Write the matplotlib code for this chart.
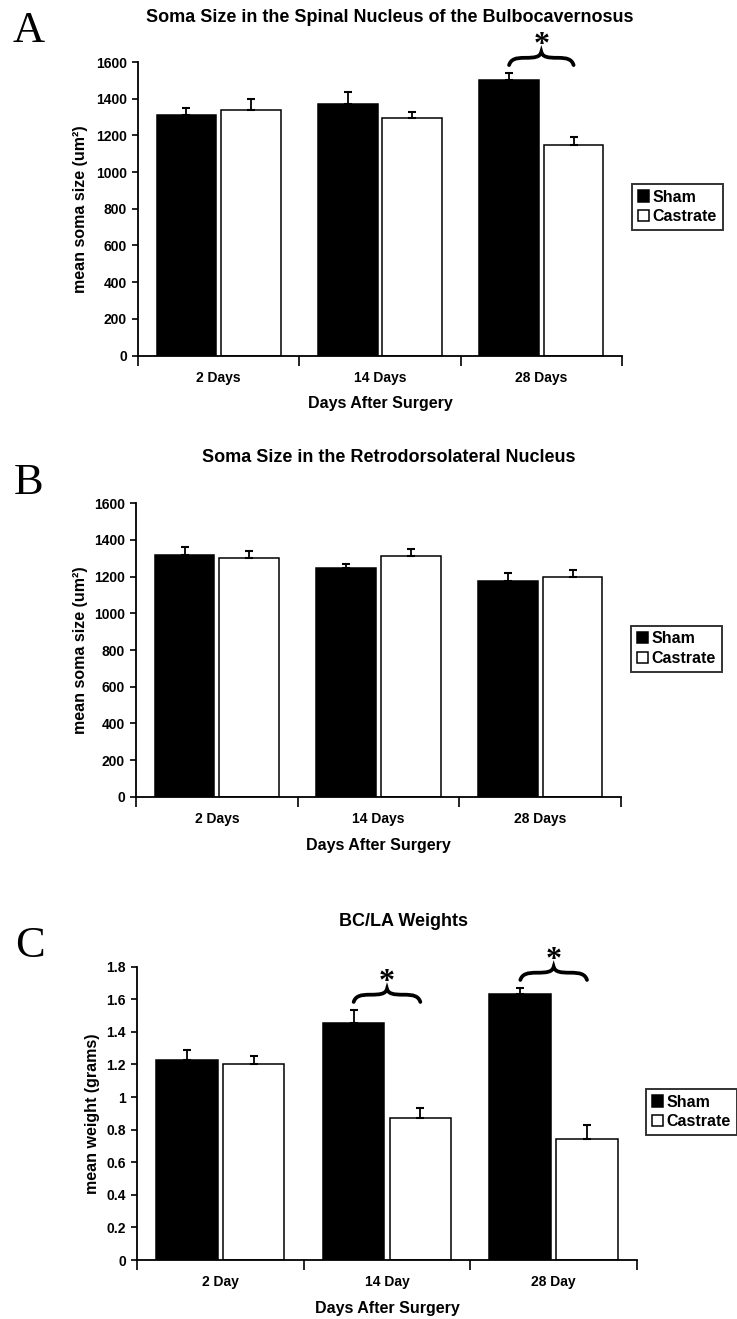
import matplotlib
matplotlib.use("Agg")
import matplotlib.pyplot as plt
import numpy as np
from matplotlib.path import Path
from matplotlib.patches import PathPatch
from matplotlib.ticker import FuncFormatter, MultipleLocator

plt.rcParams['font.family'] = ['Liberation Sans', 'DejaVu Sans']
plt.rcParams['font.weight'] = 'bold'

# ---- data ----
groups = ["Sham", "Castrate"]

days_ab = ["2 Days", "14 Days", "28 Days"]
days_c = ["2 Day", "14 Day", "28 Day"]

sbn_sham = [1310, 1370, 1500]
sbn_sham_err = [40, 65, 40]
sbn_cast = [1340, 1295, 1145]
sbn_cast_err = [60, 35, 45]
sbn_sig = [2]

rdln_sham = [1320, 1245, 1178]
rdln_sham_err = [40, 22, 42]
rdln_cast = [1300, 1310, 1200]
rdln_cast_err = [40, 40, 35]
rdln_sig = []

bcla_sham = [1.23, 1.455, 1.63]
bcla_sham_err = [0.06, 0.08, 0.04]
bcla_cast = [1.205, 0.87, 0.745]
bcla_cast_err = [0.05, 0.06, 0.085]
bcla_sig = [1, 2]

W, H = 737, 1319
fig = plt.figure(figsize=(W / 100, H / 100), dpi=100)


def px(x, y):
    """pixel position (from top-left) -> figure fraction"""
    return x / W, 1 - y / H


def draw_brace(ax, xc, y0, half, h):
    x0, x1 = xc - half, xc + half
    w = x1 - x0
    verts = [
        (x0, y0),
        (x0 + 0.03 * w, y0 + 0.45 * h), (x0 + 0.1 * w, y0 + 0.55 * h), (x0 + 0.25 * w, y0 + 0.55 * h),
        (x0 + 0.4 * w, y0 + 0.55 * h), (xc - 0.02 * w, y0 + 0.6 * h), (xc, y0 + h),
        (xc + 0.02 * w, y0 + 0.6 * h), (x1 - 0.4 * w, y0 + 0.55 * h), (x1 - 0.25 * w, y0 + 0.55 * h),
        (x1 - 0.1 * w, y0 + 0.55 * h), (x1 - 0.03 * w, y0 + 0.45 * h), (x1, y0),
    ]
    codes = [Path.MOVETO] + [Path.CURVE4] * 12
    ax.add_patch(PathPatch(Path(verts, codes), fill=False, lw=2.7, color="black",
                           clip_on=False, capstyle="round"))


def panel(rect, letter, letter_pos, title, title_pos, cats, sham, sham_err, cast, cast_err,
          ymax, ystep, ylabel, ylabel_x, legend_pos, xlabel_y, sig):
    ax = fig.add_axes(rect)
    x = np.arange(len(cats)) + 0.5
    bw = 0.37
    off = 0.2
    ekw = dict(ecolor="black", elinewidth=1.3, capsize=3, capthick=1.5)
    ax.bar(x - off, sham, bw, color="black", edgecolor="black", lw=1.1,
           yerr=[np.zeros(len(cats)), sham_err], error_kw=ekw, label=groups[0])
    ax.bar(x + off, cast, bw, color="white", edgecolor="black", lw=1.1,
           yerr=[np.zeros(len(cats)), cast_err], error_kw=ekw, label=groups[1])

    ax.set_xlim(0, len(cats))
    ax.set_ylim(0, ymax)
    ax.set_xticks(np.arange(len(cats) + 1))
    ax.set_xticklabels([])
    ax.set_xticks(x, minor=True)
    ax.set_xticklabels(cats, minor=True, fontsize=10, fontweight="bold")
    ax.tick_params(axis="x", which="major", direction="out", length=7, width=1.2)
    ax.tick_params(axis="x", which="minor", length=0, pad=11)
    ax.yaxis.set_major_locator(MultipleLocator(ystep))
    ax.yaxis.set_major_formatter(FuncFormatter(lambda v, p: f"{v:g}"))
    ax.tick_params(axis="y", direction="out", length=4, width=1.2, pad=4, labelsize=10)
    for t in ax.get_yticklabels():
        t.set_fontweight("bold")
    for s in ["top", "right"]:
        ax.spines[s].set_visible(False)
    for s in ["left", "bottom"]:
        ax.spines[s].set_linewidth(1.3)

    ax.set_ylabel(ylabel, fontsize=11.5, fontweight="bold", ha="center", va="center")
    ax.yaxis.set_label_coords(ylabel_x, 0.5)
    ax.set_xlabel("Days After Surgery", fontsize=11.5, fontweight="bold", va="center")
    ax.xaxis.set_label_coords(0.5, xlabel_y)

    leg = ax.legend(loc="upper left", bbox_to_anchor=legend_pos, bbox_transform=fig.transFigure,
                    fontsize=11.5, frameon=True, fancybox=False, edgecolor="black",
                    handlelength=0.7, handleheight=0.7, handletextpad=0.25,
                    borderpad=0.35, labelspacing=0.3, borderaxespad=0)
    leg.get_frame().set_linewidth(1.4)
    for t in leg.get_texts():
        t.set_fontweight("bold")

    fig.text(*px(*title_pos), title, fontsize=13, fontweight="bold", ha="center", va="center")
    fig.text(*px(*letter_pos), letter, fontsize=32, family="Liberation Serif",
             fontweight="normal", ha="center", va="center")

    for i in sig:
        top = max(sham[i] + sham_err[i], cast[i] + cast_err[i])
        base = top + 0.027 * ymax
        draw_brace(ax, x[i], base, 0.2, 0.045 * ymax)
        ax.text(x[i], base + 0.066 * ymax, "*", fontsize=23, family="Liberation Serif",
                fontweight="bold", ha="center", va="center", clip_on=False)
    return ax


panel([138 / W, 1 - 355.5 / H, 484 / W, 293.5 / H], "A", (29, 31),
      "Soma Size in the Spinal Nucleus of the Bulbocavernosus", (390, 17),
      days_ab, sbn_sham, sbn_sham_err, sbn_cast, sbn_cast_err,
      1600, 200, "mean soma size (um²)", -0.118, px(632, 184), -0.165, sbn_sig)

panel([136 / W, 1 - 796.7 / H, 485 / W, 293.4 / H], "B", (29, 483),
      "Soma Size in the Retrodorsolateral Nucleus", (389, 458),
      days_ab, rdln_sham, rdln_sham_err, rdln_cast, rdln_cast_err,
      1600, 200, "mean soma size (um²)", -0.115, px(631, 625.7), -0.165, rdln_sig)

panel([137 / W, 1 - 1260 / H, 500 / W, 293.3 / H], "C", (30, 946),
      "BC/LA Weights", (404, 922),
      days_c, bcla_sham, bcla_sham_err, bcla_cast, bcla_cast_err,
      1.8, 0.2, "mean weight (grams)", -0.088, px(646, 1089), -0.164, bcla_sig)

fig.savefig("out.png", dpi=100)
